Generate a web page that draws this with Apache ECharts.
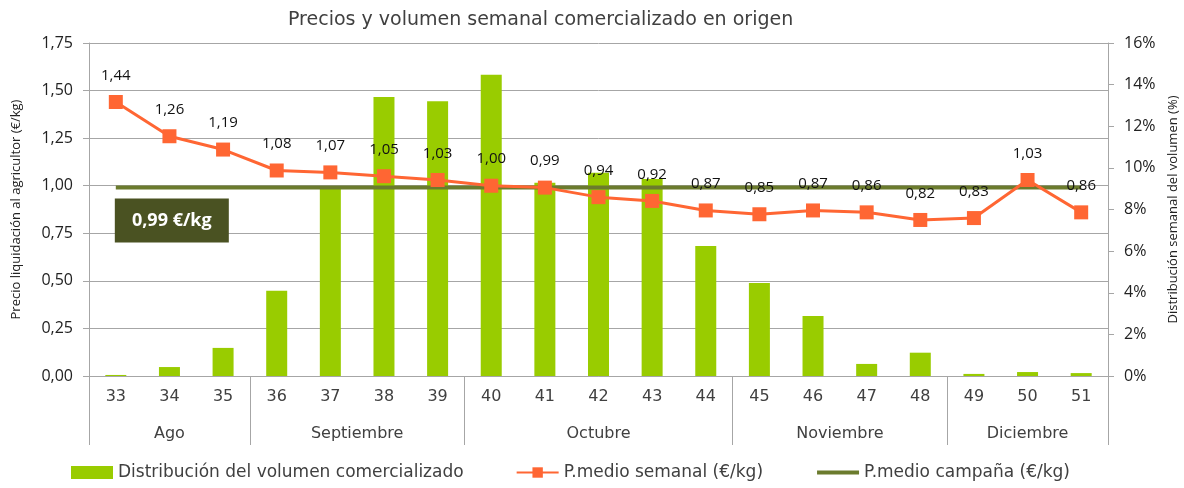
<!DOCTYPE html>
<html>
<head>
<meta charset="utf-8">
<script src="https://cdn.jsdelivr.net/npm/echarts@6/dist/echarts.min.js"></script>
<style>
  html, body { margin: 0; padding: 0; background: #fff; }
  #chart { width: 1184px; height: 488px; }
</style>
</head>
<body>
<div id="chart"></div>
<script>
// semanas
const weeks = ['33', '34', '35', '36', '37', '38', '39', '40', '41', '42', '43', '44', '45', '46', '47', '48', '49', '50', '51']
// meses y número de semanas de cada uno
const months = ['Ago', 'Septiembre', 'Octubre', 'Noviembre', 'Diciembre']
const monthWeeks = [3, 4, 5, 4, 3]
// distribución del volumen (%)
const volume = [0.05, 0.43, 1.35, 4.1, 9.0, 13.4, 13.2, 14.47, 9.28, 9.76, 9.47, 6.25, 4.47, 2.88, 0.58, 1.12, 0.1, 0.19, 0.14]
// precio medio semanal (€/kg)
const price = [1.44, 1.26, 1.19, 1.08, 1.07, 1.05, 1.03, 1.0, 0.99, 0.94, 0.92, 0.87, 0.85, 0.87, 0.86, 0.82, 0.83, 1.03, 0.86]
// precio medio campaña (€/kg)
const campaign = 0.99

const fmt = (v) => v.toFixed(2).replace('.', ',')

// limites y centros de los meses en el eje de semanas
const bounds = [0]
monthWeeks.forEach((n) => bounds.push(bounds[bounds.length - 1] + n))
const centers = months.map((m, i) => (bounds[i] + bounds[i + 1]) / 2)

const gray = '#a6a6a6'
const txt = '#404040'
const gothic = 'DejaVu Sans'

const chart = echarts.init(document.getElementById('chart'))
chart.setOption({
  animation: false,
  title: {
    text: 'Precios y volumen semanal comercializado en origen',
    left: 283,
    top: 6,
    textStyle: { fontFamily: gothic, fontSize: 19, fontWeight: 'normal', color: txt }
  },
  legend: {
    left: 66,
    top: 459,
    itemGap: 52,
    itemWidth: 42,
    itemHeight: 13,
    textStyle: { fontFamily: gothic, fontSize: 17, color: txt },
    data: [
      { name: 'Distribución del volumen comercializado', icon: 'rect' },
      'P.medio semanal (€/kg)',
      { name: 'P.medio campaña (€/kg)', itemStyle: { opacity: 0 }, lineStyle: { width: 4 } }
    ]
  },
  grid: { left: 89, right: 76, top: 43, bottom: 112, outerBoundsMode: 'none' },
  xAxis: [
    {
      type: 'category',
      data: weeks,
      axisLine: { lineStyle: { color: gray } },
      axisTick: { length: 35, lineStyle: { color: gray } },
      axisLabel: { margin: 13, fontFamily: gothic, fontSize: 16, color: txt }
    },
    {
      type: 'value',
      min: 0,
      max: weeks.length,
      position: 'bottom',
      axisLine: { show: false },
      splitLine: { show: false },
      axisTick: { show: true, length: 69, customValues: bounds, lineStyle: { color: gray } },
      axisLabel: {
        margin: 50,
        fontFamily: gothic,
        fontSize: 16,
        color: txt,
        customValues: centers,
        formatter: (v) => months[centers.indexOf(v)] || ''
      }
    }
  ],
  yAxis: [
    {
      type: 'value',
      min: 0,
      max: 1.75,
      interval: 0.25,
      name: 'Precio liquidación al agricultor (€/kg)',
      nameLocation: 'middle',
      nameGap: 66,
      nameTextStyle: { fontFamily: 'Open Sans', fontSize: 13, color: '#222' },
      axisLine: { show: true, lineStyle: { color: gray } },
      axisTick: { show: true, length: 6, lineStyle: { color: gray } },
      splitLine: { lineStyle: { color: gray } },
      axisLabel: { fontFamily: 'Open Sans', fontSize: 16, color: '#222', margin: 16, formatter: (v) => fmt(v) }
    },
    {
      type: 'value',
      min: 0,
      max: 16,
      interval: 2,
      name: 'Distribución semanal del volumen (%)',
      nameLocation: 'middle',
      nameGap: 56,
      nameRotate: 90,
      nameTextStyle: { fontFamily: 'Open Sans', fontSize: 13, color: '#222' },
      axisLine: { show: true, lineStyle: { color: gray } },
      axisTick: { show: true, length: 6, lineStyle: { color: gray } },
      splitLine: { show: false },
      axisLabel: { fontFamily: 'Open Sans', fontSize: 16, color: '#222', margin: 16, formatter: (v) => v + '%' }
    }
  ],
  series: [
    {
      name: 'Distribución del volumen comercializado',
      type: 'bar',
      yAxisIndex: 1,
      barWidth: 21,
      itemStyle: { color: '#99cc00' },
      data: volume
    },
    {
      name: 'P.medio campaña (€/kg)',
      type: 'line',
      symbol: 'none',
      lineStyle: { color: '#6b7b2d', width: 4 },
      itemStyle: { color: '#6b7b2d' },
      data: weeks.map(() => campaign),
      markPoint: {
        symbol: 'rect',
        symbolSize: [114, 44],
        symbolOffset: [56, 33],
        itemStyle: { color: '#4a5222' },
        label: {
          show: true,
          color: '#fff',
          fontFamily: 'Open Sans',
          fontWeight: 'bold',
          fontSize: 18,
          formatter: () => fmt(campaign) + ' €/kg'
        },
        data: [{ coord: [0, campaign] }]
      },
      z: 3
    },
    {
      name: 'P.medio semanal (€/kg)',
      type: 'line',
      symbol: 'rect',
      symbolSize: 14,
      lineStyle: { color: '#ff6633', width: 3 },
      itemStyle: { color: '#ff6633' },
      label: {
        show: true,
        position: 'top',
        distance: 12,
        fontFamily: 'Open Sans',
        fontSize: 15,
        color: '#111',
        formatter: (p) => fmt(p.value)
      },
      data: price,
      z: 4
    }
  ]
})
</script>
</body>
</html>
